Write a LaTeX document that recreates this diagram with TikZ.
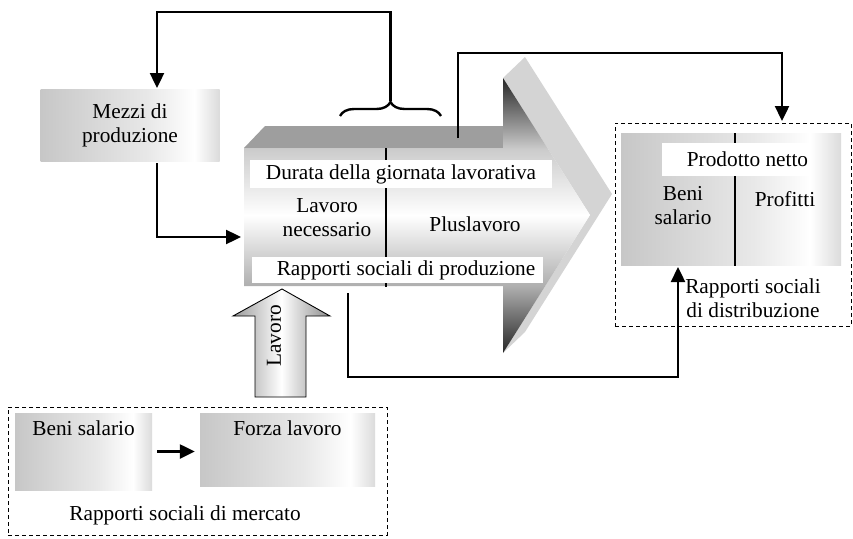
\documentclass[tikz,border=0pt]{standalone}
\usepackage{fontspec}
\setmainfont{Liberation Serif}
\usepackage{tikz}
\usetikzlibrary{positioning, calc, arrows.meta, decorations.pathreplacing}

\pgfdeclarehorizontalshading{boxshade}{100bp}{color(0bp)=(black!22); color(25bp)=(black!22);
  color(55bp)=(black!9); color(68bp)=(white); color(75bp)=(black!14); color(100bp)=(black!14)}
\pgfdeclareverticalshading{frontshade}{100bp}{color(0bp)=(black!85); color(25bp)=(black!85);
  color(37bp)=(black!32); color(50bp)=(white); color(62bp)=(black!20); color(75bp)=(black!85);
  color(100bp)=(black!85)}

\tikzset{
  conn/.style={line width=2.4pt, -{Triangle[length=15pt,width=14pt]}},
  shadebox/.style={shading=boxshade, minimum width=#1},
  whitebar/.style={fill=white, inner sep=0pt},
  dashbox/.style={draw, dashed, line width=0.8pt, dash pattern=on 4pt off 3pt},
  txt/.style={align=center, inner sep=0pt}
}

\begin{document}
\begin{tikzpicture}[x=1pt, y=-1pt, font=\fontsize{21.3}{24}\selectfont]
        \useasboundingbox (0,0) rectangle (853,538);

        % corners of the big arrow (front face)
        \coordinate (A) at (244,148);
        \coordinate (B) at (503,148);
        \coordinate (C) at (503,78);
        \coordinate (D) at (590,215);
        \coordinate (E) at (503,353);
        \coordinate (F) at (503,286);
        \coordinate (G) at (244,286);

        % top and side of the arrow
        \fill[black!38] (A) -- ($(A)+(21,-22)$) -- (520,126) -- (520,148) -- cycle;
        \fill[black!17] (C) -- ($(C)+(22,-21)$) -- ($(D)+(22,-21)$) -- ($(E)+(22,-21)$) -- (E) -- (D) -- cycle;

        % the front face
        \shade[shading=frontshade] (A) -- (B) -- (C) -- (D) -- (E) -- (F) -- (G) -- cycle;
        \draw[line width=2.4pt] (386,148) -- (386,287);

        \node[whitebar, minimum width=302pt, minimum height=28pt] (durata) at (401,174) {Durata della giornata lavorativa};
        \node[whitebar, minimum width=291pt, minimum height=26pt] (rapprod) at (397.5,270) {\hspace*{17pt}Rapporti sociali di produzione};
        \node[txt] (necess) at (327,218) {Lavoro\\necessario};
        \node[txt] (plus) at (475,224) {Pluslavoro};

        % mezzi di produzione
        \node[shadebox=179pt, minimum height=72pt, txt] (mezzi) at (130,125) {Mezzi di\\produzione};
        \coordinate (mzin) at (157,88);
        \coordinate (mzout) at (157,163);
        \coordinate (in) at (241,237);

        % the brace
        \draw[decorate, decoration={brace, amplitude=14pt}, line width=2.4pt] (340,116) -- (441,116);
        \coordinate (k) at (390.5,101);
        \coordinate (top) at (390.5,12);
        \draw[conn] (k) -- (top) -| (mzin);
        \draw[conn] (mzout) |- (in);

        % distribuzione
        \node[dashbox, minimum width=236pt, minimum height=203pt] (distrib) at (733,224.5) {};
        \node[shadebox=220pt, minimum height=132pt] (netbox) at (731,199) {};
        \draw[line width=2.4pt] (735,133) -- (735,266);
        \node[whitebar, minimum width=149pt, minimum height=33pt] (netto) at (736.5,159.5) {\hspace*{22pt}Prodotto netto};
        \node[txt] (benisal) at (683,206) {Beni\\salario};
        \node[txt] (profitti) at (785,199) {Profitti};
        \node[txt] (rapdist) at (753,298) {Rapporti sociali\\di distribuzione};

        \coordinate (s) at (458,138);
        \coordinate (dtop) at (782,121);
        \draw[conn] (s) -- ++(0,-85) -| (dtop);

        \coordinate (p) at (348,293);
        \coordinate (r) at (678,267);
        \draw[conn] (p) -- ++(0,84) -| (r);

        % the arrow of labour
        \shade[draw, line width=0.9pt, left color=black!40, right color=black!45, middle color=white]
          (255,397) -- (255,316) -- (233,316) -- (282,289) -- (330,316) -- (306,316) -- (306,397) -- cycle;
        \node[rotate=90, inner sep=0pt] (lavoro) at (274,336) {Lavoro};

        % mercato
        \node[dashbox, minimum width=379pt, minimum height=128pt] (mercato) at (197.5,471) {};
        \node[shadebox=137pt, minimum height=77pt,
          label={[anchor=north, yshift=-4pt]north:Beni salario}] (benimkt) at (83.5,451.5) {};
        \node[shadebox=175pt, minimum height=73pt,
          label={[anchor=north, yshift=-4pt]north:Forza lavoro}] (forza) at (287.5,449.5) {};
        \draw[conn, shorten <=5pt, shorten >=5pt] (benimkt.east) -- (benimkt.east -| forza.west);
        \node[txt] (rapmerc) at (185,515) {Rapporti sociali di mercato};
    \end{tikzpicture}
\end{document}
